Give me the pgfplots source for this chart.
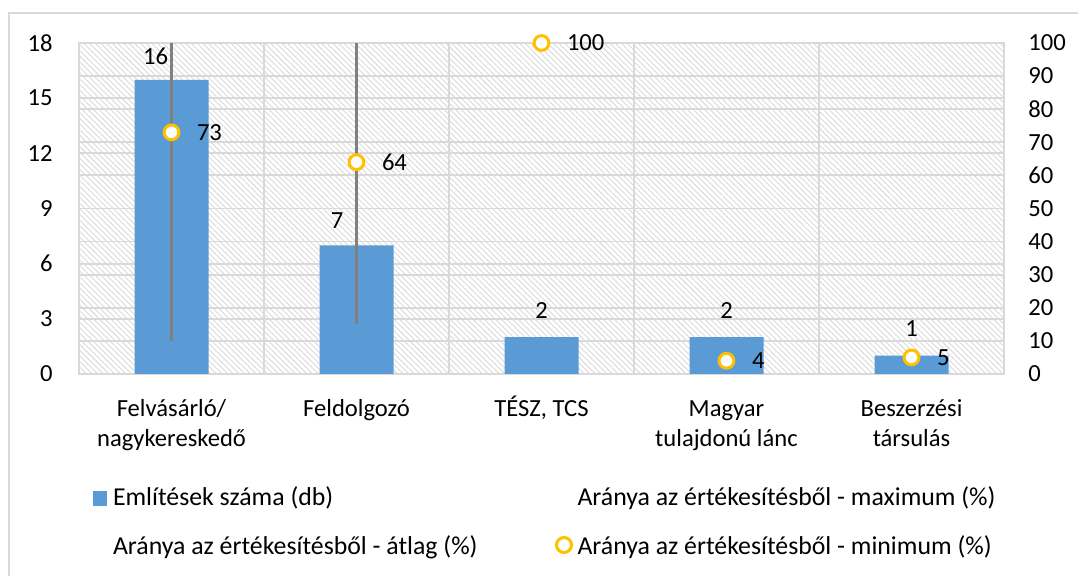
\documentclass[border=0pt]{standalone}
\usepackage{fontspec}
\setmainfont{Carlito}
\usepackage{pgfplots}
\pgfplotsset{compat=1.18}
\usetikzlibrary{patterns.meta}
\definecolor{barblue}{HTML}{5B9BD5}
\definecolor{gridgray}{HTML}{D9D9D9}
\definecolor{ringorange}{HTML}{FFC000}
\definecolor{hilo}{HTML}{808080}
\begin{document}
\fontsize{12.3bp}{15bp}\selectfont
\begin{tikzpicture}
\useasboundingbox (0,0) rectangle (539bp,288bp);
\draw[gridgray, line width=0.75bp] (4.5bp,-5bp) |- (545bp,281.5bp);
\begin{axis}[
  at={(39.5bp,101bp)}, anchor=south west,
  scale only axis, width=462.5bp, height=165.5bp,
  xmin=-0.5, xmax=4.5, ymin=0, ymax=18,
  axis line style={draw=gridgray, line width=0.9bp},
  ticklabel pos=left,
  ytick={0,3,...,18},
  xtick={0,...,4},
  xticklabels={\strut Felvásárló/\\nagykereskedő, \strut Feldolgozó, {\strut TÉSZ, TCS}, \strut Magyar\\tulajdonú lánc, \strut Beszerzési\\társulás},
  major tick length=0,
  ymajorgrids,
  grid style={draw=gridgray, line width=0.9bp},
  extra y ticks={1.8,3.6,5.4,7.2,10.8,12.6,14.4,16.2},
  extra y tick labels={},
  extra y tick style={grid=major, major tick length=0},
  extra x ticks={0.5,1.5,2.5,3.5},
  extra x tick labels={},
  extra x tick style={grid=major, major tick length=0},
  axis background/.style={pattern={Lines[angle=-45,distance=2bp,line width=0.45bp]}, pattern color=gray!30},
  yticklabel style={anchor=east, inner sep=0pt, xshift=-13bp},
  xticklabel style={align=center, anchor=north, inner sep=0pt, yshift=-10.5bp},
  /pgf/number format/assume math mode=true,
]
\addplot[ybar, bar shift=0pt, bar width=37bp, fill=barblue, draw=none, forget plot]
  coordinates {(0,16) (1,7) (2,2) (3,2) (4,1)};
\addplot[draw=none, mark=none, forget plot, nodes near coords,
  nodes near coords style={anchor=base, inner sep=0pt, xshift=-8bp, yshift=7.5bp}]
  coordinates {(0,16)};
\addplot[draw=none, mark=none, forget plot, nodes near coords,
  nodes near coords style={anchor=base, inner sep=0pt, xshift=-9.75bp, yshift=8.5bp}]
  coordinates {(1,7)};
\addplot[draw=none, mark=none, forget plot, nodes near coords,
  nodes near coords style={anchor=base, inner sep=0pt, yshift=9.5bp}]
  coordinates {(2,2) (3,2) (4,1)};
\end{axis}
\begin{axis}[
  at={(39.5bp,101bp)}, anchor=south west,
  scale only axis, width=462.5bp, height=165.5bp,
  xmin=-0.5, xmax=4.5, ymin=0, ymax=100,
  axis y line*=right, axis x line=none,
  y axis line style={draw=none},
  ytick={0,10,...,100},
  major tick length=0,
  yticklabel style={anchor=west, inner sep=0pt, xshift=12bp},
  /pgf/number format/assume math mode=true,
  legend columns=2,
  legend cell align=left,
  legend style={draw=none, fill=none, inner sep=0pt, outer sep=0pt,
    at={(axis description cs:0.01514,-0.3429)}, anchor=north west,
    row sep=12.25bp,
    nodes={inner sep=0pt, text height=9bp, text depth=3bp, text width=221bp, align=flush left,
      font=\fontsize{12.9bp}{15bp}\selectfont}},
]
\addplot[hilo, line width=1.2bp, forget plot] coordinates {(0,10) (0,100)};
\addplot[hilo, line width=1.2bp, forget plot] coordinates {(1,15) (1,100)};
\addplot[only marks, mark=*, mark size=3.7bp,
  mark options={draw=ringorange, fill=white, line width=1.5bp},
  nodes near coords,
  nodes near coords style={anchor=west, inner sep=0pt, xshift=12bp, text=black},
  forget plot]
  coordinates {(0,73) (1,64) (2,100) (3,4) (4,5)};
\addlegendimage{legend image code/.code={\path[draw=none,fill=none] (0bp,-4bp) rectangle (10bp,4bp); \fill[barblue, draw=none] (0bp,-3bp) rectangle (7bp,4bp);}}
\addlegendentry{Említések száma (db)}
\addlegendimage{legend image code/.code={\path[draw=none,fill=none] (0bp,-4bp) rectangle (11.25bp,4bp);}}
\addlegendentry{Aránya az értékesítésből - maximum (\%)}
\addlegendimage{legend image code/.code={\path[draw=none,fill=none] (0bp,-4bp) rectangle (10bp,4bp);}}
\addlegendentry{Aránya az értékesítésből - átlag (\%)}
\addlegendimage{legend image code/.code={\path[draw=none,fill=none] (0bp,-4bp) rectangle (11.25bp,4bp); \draw[draw=ringorange, line width=1.5bp, fill=white] (4.5bp,1.5bp) circle (3.75bp);}}
\addlegendentry{Aránya az értékesítésből - minimum (\%)}
\end{axis}
\end{tikzpicture}
\end{document}
